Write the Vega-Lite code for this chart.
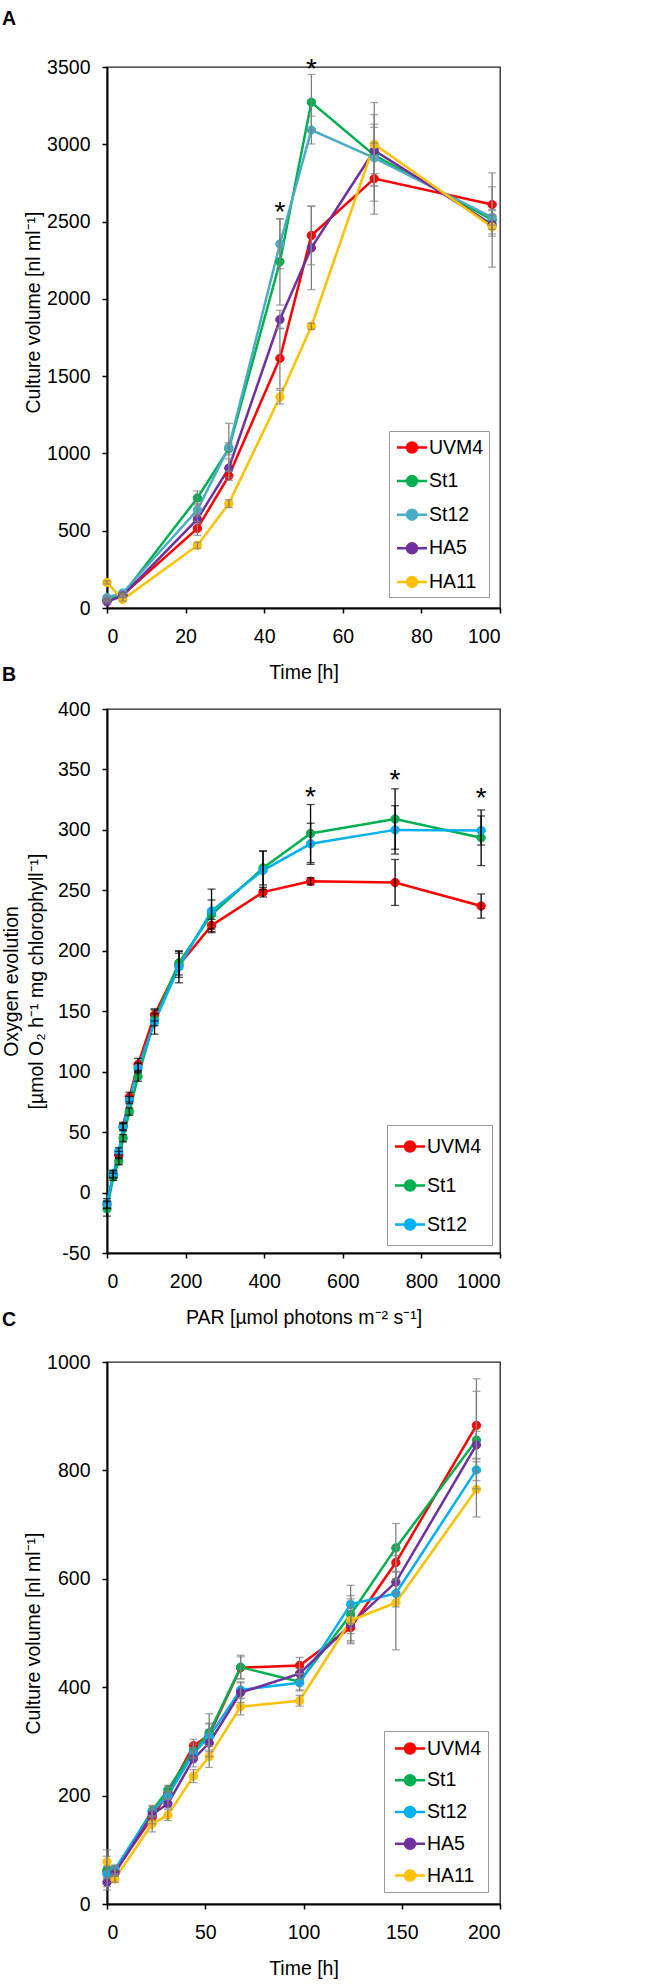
{
  "$schema": "https://vega.github.io/schema/vega-lite/v6.json",
  "background": "white",
  "padding": {"left": 0, "top": 7, "right": 5, "bottom": 2},
  "spacing": -20,
  "config": {
    "font": "Liberation Sans",
    "view": {"stroke": "#222", "strokeWidth": 1.3},
    "axis": {"grid": false, "domainColor": "#000", "domainWidth": 2, "tickColor": "#000", "tickWidth": 1.5, "tickSize": 5, "labelFont": "Liberation Sans", "labelFontSize": 19.5, "labelColor": "#000", "labelExpr": "'' + datum.value", "titleFont": "Liberation Sans", "titleFontSize": 19.5, "titleFontWeight": "normal", "titleColor": "#000"},
    "axisX": {"labelPadding": 14.5, "titlePadding": 17},
    "axisY": {"labelPadding": 12, "titlePadding": 3},
    "legend": {"symbolType": "M-1.5,0H1.5M0.5,0A0.5,0.5,0,1,1,-0.5,0A0.5,0.5,0,1,1,0.5,0Z", "symbolSize": 400, "symbolStrokeWidth": 2.5, "labelFontSize": 19.5, "labelFont": "Liberation Sans", "labelColor": "#000", "strokeColor": "#999", "fillColor": "#fff", "cornerRadius": 0, "labelLimit": 200},
    "title": {"anchor": "start", "frame": "group", "dx": -105, "fontSize": 19.5, "fontWeight": "bold", "color": "#000"}
  },
  "datasets": {
    "a": [
      {"t":0,"s":"UVM4","v":50,"e":10},{"t":4,"s":"UVM4","v":85,"e":10},{"t":23,"s":"UVM4","v":515,"e":45},{"t":31,"s":"UVM4","v":855,"e":30},{"t":44,"s":"UVM4","v":1615,"e":195},{"t":52,"s":"UVM4","v":2410,"e":190},{"t":68,"s":"UVM4","v":2778,"e":230},{"t":98,"s":"UVM4","v":2610,"e":205},
      {"t":0,"s":"St1","v":55,"e":10},{"t":4,"s":"St1","v":85,"e":10},{"t":23,"s":"St1","v":712,"e":45},{"t":31,"s":"St1","v":1030,"e":40},{"t":44,"s":"St1","v":2240,"e":280},{"t":52,"s":"St1","v":3272,"e":180},{"t":68,"s":"St1","v":2930,"e":200},{"t":98,"s":"St1","v":2510,"e":60},
      {"t":0,"s":"St12","v":68,"e":10},{"t":4,"s":"St12","v":97,"e":10},{"t":23,"s":"St12","v":635,"e":40},{"t":31,"s":"St12","v":1040,"e":155},{"t":44,"s":"St12","v":2355,"e":160},{"t":52,"s":"St12","v":3092,"e":90},{"t":68,"s":"St12","v":2912,"e":280},{"t":98,"s":"St12","v":2528,"e":50},
      {"t":0,"s":"HA5","v":40,"e":10},{"t":4,"s":"HA5","v":80,"e":10},{"t":23,"s":"HA5","v":575,"e":30},{"t":31,"s":"HA5","v":905,"e":60},{"t":44,"s":"HA5","v":1866,"e":60},{"t":52,"s":"HA5","v":2330,"e":270},{"t":68,"s":"HA5","v":2960,"e":150},{"t":98,"s":"HA5","v":2480,"e":60},
      {"t":0,"s":"HA11","v":165,"e":10},{"t":4,"s":"HA11","v":55,"e":10},{"t":23,"s":"HA11","v":405,"e":20},{"t":31,"s":"HA11","v":675,"e":25},{"t":44,"s":"HA11","v":1365,"e":45},{"t":52,"s":"HA11","v":1823,"e":20},{"t":68,"s":"HA11","v":3000,"e":270},{"t":98,"s":"HA11","v":2465,"e":260}
    ],
    "b": [
      {"t":0,"s":"UVM4","v":-10,"e":3},{"t":16,"s":"UVM4","v":15,"e":3},{"t":30,"s":"UVM4","v":31,"e":3},{"t":41,"s":"UVM4","v":55,"e":3},{"t":57,"s":"UVM4","v":79,"e":4},{"t":79,"s":"UVM4","v":106,"e":5},{"t":121,"s":"UVM4","v":147,"e":5},{"t":183,"s":"UVM4","v":188,"e":10},{"t":266,"s":"UVM4","v":221,"e":5},{"t":397,"s":"UVM4","v":248.5,"e":4},{"t":518,"s":"UVM4","v":257.5,"e":3},{"t":733,"s":"UVM4","v":256.5,"e":19},{"t":952,"s":"UVM4","v":237,"e":10},
      {"t":0,"s":"St1","v":-13.5,"e":6},{"t":16,"s":"St1","v":13,"e":3},{"t":30,"s":"St1","v":26,"e":3},{"t":41,"s":"St1","v":45,"e":3},{"t":57,"s":"St1","v":67,"e":3},{"t":79,"s":"St1","v":96,"e":4},{"t":121,"s":"St1","v":143,"e":5},{"t":183,"s":"St1","v":190,"e":10},{"t":266,"s":"St1","v":230,"e":12},{"t":397,"s":"St1","v":268.5,"e":14},{"t":518,"s":"St1","v":297,"e":24},{"t":733,"s":"St1","v":309,"e":25},{"t":952,"s":"St1","v":293.5,"e":23},
      {"t":0,"s":"St12","v":-9,"e":4},{"t":16,"s":"St12","v":15.5,"e":3},{"t":30,"s":"St12","v":34,"e":3},{"t":41,"s":"St12","v":54,"e":3},{"t":57,"s":"St12","v":76.5,"e":3},{"t":79,"s":"St12","v":103,"e":4},{"t":121,"s":"St12","v":141,"e":10},{"t":183,"s":"St12","v":186.5,"e":13},{"t":266,"s":"St12","v":233,"e":18},{"t":397,"s":"St12","v":266.5,"e":16},{"t":518,"s":"St12","v":288.5,"e":17},{"t":733,"s":"St12","v":300,"e":20},{"t":952,"s":"St12","v":299.5,"e":12}
    ],
    "c": [
      {"t":0,"s":"UVM4","v":60,"e":10},{"t":4,"s":"UVM4","v":60,"e":8},{"t":23,"s":"UVM4","v":160,"e":12},{"t":31,"s":"UVM4","v":205,"e":10},{"t":44,"s":"UVM4","v":292,"e":12},{"t":52,"s":"UVM4","v":312,"e":20},{"t":68,"s":"UVM4","v":436,"e":20},{"t":98,"s":"UVM4","v":440,"e":15},{"t":124,"s":"UVM4","v":510,"e":30},{"t":147,"s":"UVM4","v":630,"e":30},{"t":188,"s":"UVM4","v":883,"e":86},
      {"t":0,"s":"St1","v":63,"e":37},{"t":4,"s":"St1","v":62,"e":8},{"t":23,"s":"St1","v":172,"e":10},{"t":31,"s":"St1","v":211,"e":8},{"t":44,"s":"St1","v":283,"e":12},{"t":52,"s":"St1","v":316,"e":35},{"t":68,"s":"St1","v":437,"e":22},{"t":98,"s":"St1","v":410,"e":15},{"t":124,"s":"St1","v":534,"e":35},{"t":147,"s":"St1","v":657,"e":45},{"t":188,"s":"St1","v":856,"e":90},
      {"t":0,"s":"St12","v":55,"e":8},{"t":4,"s":"St12","v":64,"e":8},{"t":23,"s":"St12","v":170,"e":10},{"t":31,"s":"St12","v":200,"e":8},{"t":44,"s":"St12","v":278,"e":10},{"t":52,"s":"St12","v":309,"e":25},{"t":68,"s":"St12","v":395,"e":15},{"t":98,"s":"St12","v":408,"e":15},{"t":124,"s":"St12","v":553,"e":35},{"t":147,"s":"St12","v":573,"e":25},{"t":188,"s":"St12","v":801,"e":20},
      {"t":0,"s":"HA5","v":40,"e":8},{"t":4,"s":"HA5","v":57,"e":6},{"t":23,"s":"HA5","v":165,"e":10},{"t":31,"s":"HA5","v":185,"e":8},{"t":44,"s":"HA5","v":268,"e":15},{"t":52,"s":"HA5","v":297,"e":25},{"t":68,"s":"HA5","v":390,"e":18},{"t":98,"s":"HA5","v":425,"e":10},{"t":124,"s":"HA5","v":516,"e":30},{"t":147,"s":"HA5","v":594,"e":20},{"t":188,"s":"HA5","v":847,"e":25},
      {"t":0,"s":"HA11","v":78,"e":10},{"t":4,"s":"HA11","v":46,"e":6},{"t":23,"s":"HA11","v":148,"e":15},{"t":31,"s":"HA11","v":164,"e":10},{"t":44,"s":"HA11","v":236,"e":12},{"t":52,"s":"HA11","v":272,"e":20},{"t":68,"s":"HA11","v":364,"e":15},{"t":98,"s":"HA11","v":375,"e":10},{"t":124,"s":"HA11","v":523,"e":40},{"t":147,"s":"HA11","v":556,"e":87},{"t":188,"s":"HA11","v":765,"e":51}
    ],
    "astA": [{"t":44,"v":2600,"m":"*"},{"t":52,"v":3525,"m":"*"}],
    "astB": [{"t":518,"v":332,"m":"*"},{"t":733,"v":346,"m":"*"},{"t":952,"v":331,"m":"*"}]
  },
  "vconcat": [
    {
      "title": {"text": "A", "offset": 27},
      "width": 393, "height": 541,
      "data": {"name": "a"},
      "encoding": {
        "x": {"field": "t", "type": "quantitative", "title": "Time [h]", "scale": {"domain": [0, 100], "nice": false}, "axis": {"values": [0,20,40,60,80,100]}},
        "y": {"field": "v", "type": "quantitative", "title": "Culture volume [nl ml⁻¹]", "scale": {"domain": [0, 3500], "nice": false}, "axis": {"values": [0,500,1000,1500,2000,2500,3000,3500], "titleY": 245}}
      },
      "layer": [
        {"mark": {"type": "line", "strokeWidth": 2.5},
         "encoding": {
           "stroke": {"field": "s", "type": "nominal", "scale": {"domain": ["UVM4","St1","St12","HA5","HA11"], "range": ["#ff0000","#00b050","#4bacc6","#7030a0","#ffc000"]}, "legend": {"title": null, "orient": "bottom-right", "offset": 11, "padding": 5, "rowPadding": 11.6, "symbolOffset": 6.5, "labelOffset": 5.5}}
         }},
        {"mark": {"type": "point", "filled": true, "size": 70, "strokeWidth": 1, "opacity": 1},
         "encoding": {
           "fill": {"field": "s", "type": "nominal", "scale": {"domain": ["UVM4","St1","St12","HA5","HA11"], "range": ["#ff0000","#00b050","#4bacc6","#7030a0","#ffc000"]}, "legend": {"title": null, "orient": "bottom-right", "offset": 11, "padding": 5, "rowPadding": 11.6, "symbolOffset": 6.5, "labelOffset": 5.5}},
           "stroke": {"field": "s", "type": "nominal"}
         }},
        {"mark": {"type": "errorbar", "ticks": {"size": 8}, "color": "#808080", "thickness": 1.3},
         "encoding": {"yError": {"field": "e"}}},
        {"data": {"name": "astA"},
         "mark": {"type": "text", "fontSize": 28, "dy": 7, "color": "#000"},
         "encoding": {"text": {"field": "m"}}}
      ]
    },
    {
      "title": {"text": "B", "offset": 14},
      "width": 393, "height": 544,
      "data": {"name": "b"},
      "encoding": {
        "x": {"field": "t", "type": "quantitative", "title": "PAR [µmol photons m⁻² s⁻¹]", "scale": {"domain": [0, 1000], "nice": false}, "axis": {"values": [0,200,400,600,800,1000]}},
        "y": {"field": "v", "type": "quantitative", "title": ["Oxygen evolution", "[µmol O₂ h⁻¹ mg chlorophyll⁻¹]"], "scale": {"domain": [-50, 400], "nice": false}, "axis": {"values": [-50,0,50,100,150,200,250,300,350,400], "titleLineHeight": 25, "titlePadding": 11}}
      },
      "layer": [
        {"mark": {"type": "line", "strokeWidth": 2.5},
         "encoding": {
           "stroke": {"field": "s", "type": "nominal", "scale": {"domain": ["UVM4","St1","St12"], "range": ["#ff0000","#00b050","#00b0f0"]}, "legend": {"title": null, "orient": "bottom-right", "offset": 8, "padding": 10, "rowPadding": 17, "symbolOffset": 1.5, "labelOffset": 5.5}}
         }},
        {"mark": {"type": "point", "filled": true, "size": 70, "strokeWidth": 1, "opacity": 1},
         "encoding": {
           "fill": {"field": "s", "type": "nominal", "scale": {"domain": ["UVM4","St1","St12"], "range": ["#ff0000","#00b050","#00b0f0"]}, "legend": {"title": null, "orient": "bottom-right", "offset": 8, "padding": 10, "rowPadding": 17, "symbolOffset": 1.5, "labelOffset": 5.5}},
           "stroke": {"field": "s", "type": "nominal"}
         }},
        {"mark": {"type": "errorbar", "ticks": {"size": 8}, "color": "#000", "thickness": 1.3},
         "encoding": {"yError": {"field": "e"}}},
        {"data": {"name": "astB"},
         "mark": {"type": "text", "fontSize": 28, "dy": 7, "color": "#000"},
         "encoding": {"text": {"field": "m"}}}
      ]
    },
    {
      "title": {"text": "C", "offset": 22},
      "width": 393, "height": 542,
      "data": {"name": "c"},
      "encoding": {
        "x": {"field": "t", "type": "quantitative", "title": "Time [h]", "scale": {"domain": [0, 200], "nice": false}, "axis": {"values": [0,50,100,150,200]}},
        "y": {"field": "v", "type": "quantitative", "title": "Culture volume [nl ml⁻¹]", "scale": {"domain": [0, 1000], "nice": false}, "axis": {"values": [0,200,400,600,800,1000]}}
      },
      "layer": [
        {"mark": {"type": "line", "strokeWidth": 2.5},
         "encoding": {
           "stroke": {"field": "s", "type": "nominal", "scale": {"domain": ["UVM4","St1","St12","HA5","HA11"], "range": ["#ff0000","#00b050","#00b0f0","#7030a0","#ffc000"]}, "legend": {"title": null, "orient": "bottom-right", "offset": 12, "padding": 6, "rowPadding": 9.75, "symbolOffset": 8.5, "labelOffset": 5.5}}
         }},
        {"mark": {"type": "point", "filled": true, "size": 70, "strokeWidth": 1, "opacity": 1},
         "encoding": {
           "fill": {"field": "s", "type": "nominal", "scale": {"domain": ["UVM4","St1","St12","HA5","HA11"], "range": ["#ff0000","#00b050","#00b0f0","#7030a0","#ffc000"]}, "legend": {"title": null, "orient": "bottom-right", "offset": 12, "padding": 6, "rowPadding": 9.75, "symbolOffset": 8.5, "labelOffset": 5.5}},
           "stroke": {"field": "s", "type": "nominal"}
         }},
        {"mark": {"type": "errorbar", "ticks": {"size": 8}, "color": "#808080", "thickness": 1.3},
         "encoding": {"yError": {"field": "e"}}}
      ]
    }
  ],
  "resolve": {"scale": {"stroke": "independent", "fill": "independent"}}
}
